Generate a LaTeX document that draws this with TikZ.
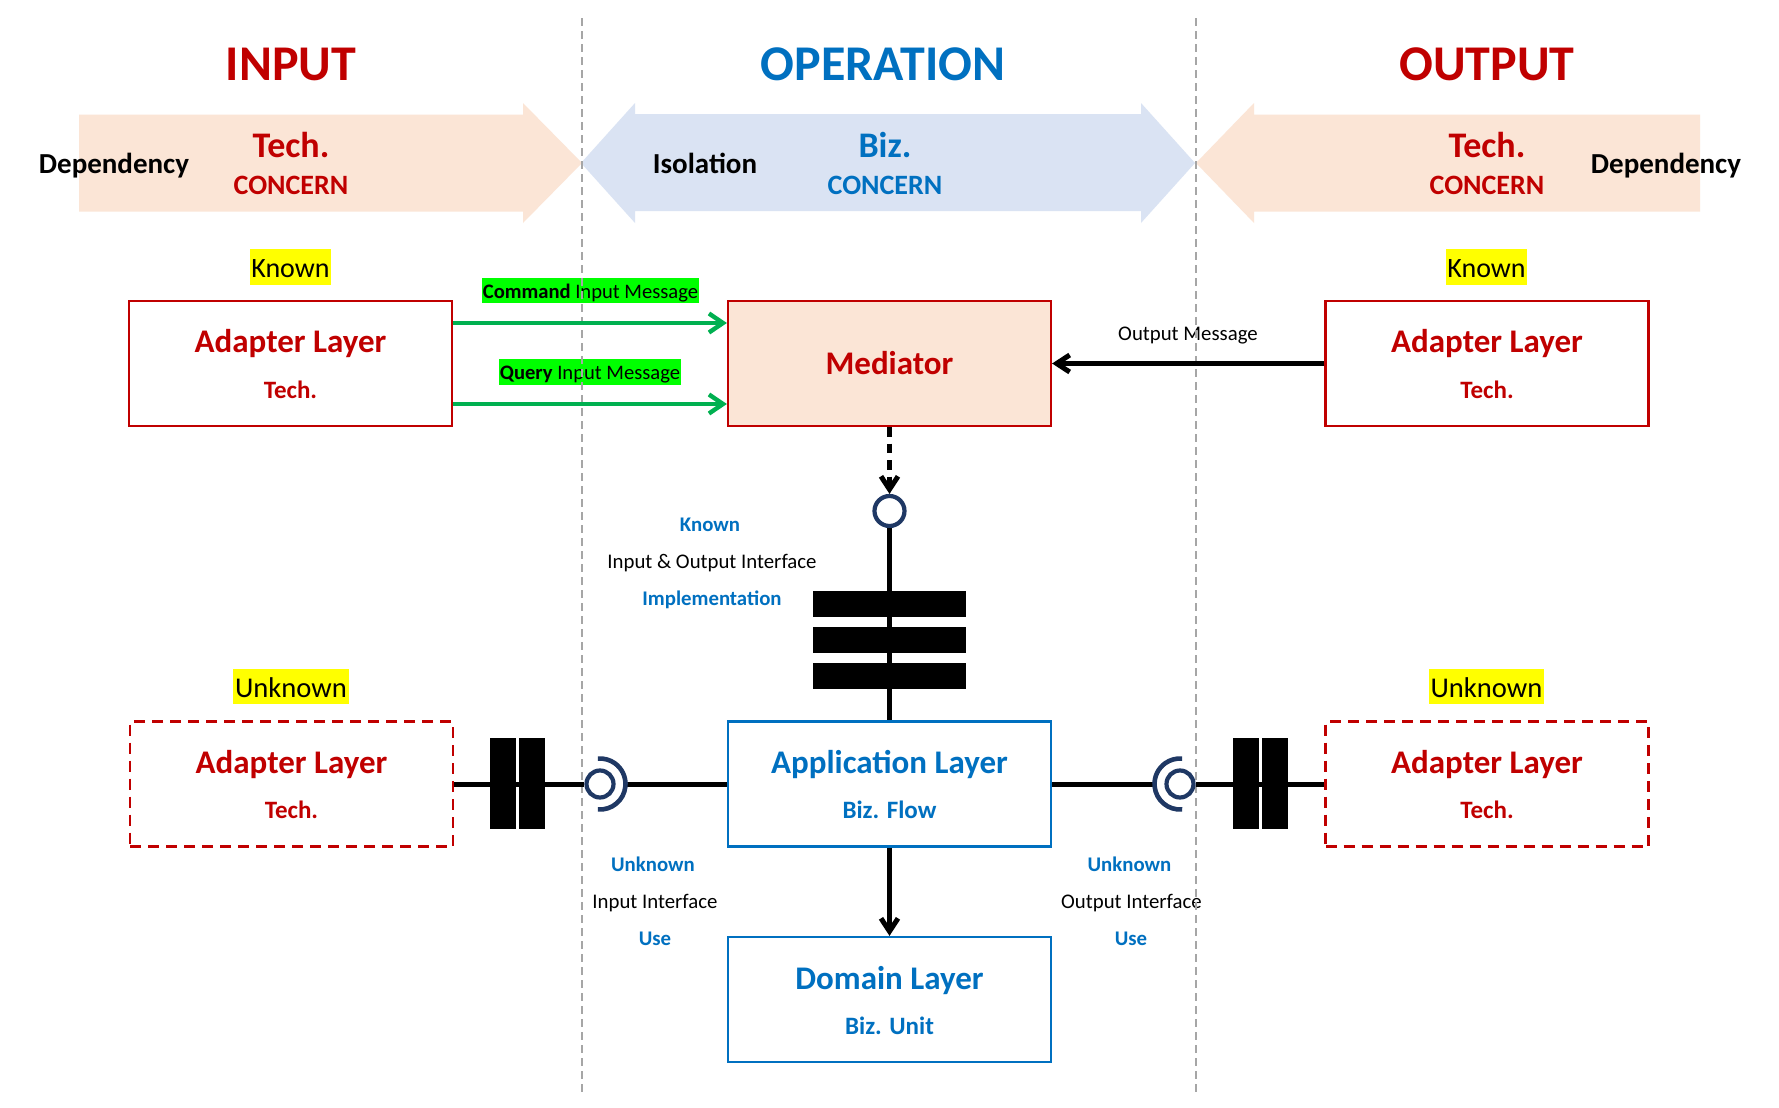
\documentclass[tikz,border=0pt]{standalone}
\usepackage{fontspec}
\setmainfont{Carlito}
\usetikzlibrary{arrows.meta}
\definecolor{cred}{HTML}{C00000}
\definecolor{cblue}{HTML}{0070C0}
\definecolor{peach}{HTML}{FBE5D6}
\definecolor{lblue}{HTML}{DAE3F3}
\definecolor{cgreen}{HTML}{00B050}
\definecolor{hgreen}{HTML}{00FF00}
\definecolor{hyellow}{HTML}{FFFF00}
\definecolor{navy}{HTML}{1F3864}
\definecolor{sepgray}{HTML}{A6A6A6}
\newcommand\myfs[1]{\fontsize{#1}{#1}\selectfont}
\begin{document}
\begin{tikzpicture}[x=0.5pt,y=-0.5pt,
  txt/.style={anchor=base,inner sep=0pt},
  title/.style={txt,font=\bfseries\myfs{25pt}},
  big/.style={txt,font=\bfseries\myfs{18pt}},
  conc/.style={txt,font=\bfseries\myfs{14pt}},
  dep/.style={txt,font=\bfseries\myfs{14.5pt},text=black},
  hlk/.style={anchor=base,fill=hyellow,inner xsep=0.6pt,inner ysep=0pt,text height=14pt,text depth=4pt,font=\myfs{14pt}},
  hlu/.style={anchor=base,fill=hyellow,inner xsep=0.8pt,inner ysep=0pt,text height=14.25pt,text depth=3.25pt,font=\myfs{14.3pt}},
  hlg/.style={anchor=base,fill=hgreen,inner xsep=0.5pt,inner ysep=0pt,font=\myfs{10.3pt}},
  small/.style={txt,font=\myfs{10.4pt}},
  smallb/.style={txt,font=\bfseries\myfs{10.4pt},text=cblue},
  hd/.style={txt,font=\bfseries\myfs{16.5pt}},
  sub/.style={txt,font=\bfseries\myfs{12.5pt}},
  boxbase/.style={rectangle,inner sep=0pt,minimum width=161.5pt,minimum height=62.5pt},
  rbox/.style={boxbase,draw=cred,line width=1.1pt},
  dbox/.style={boxbase,draw=cred,line width=1.2pt,dash pattern=on 5.5pt off 3.5pt},
  bbox/.style={boxbase,draw=cblue,line width=1.1pt},
  conn/.style={line width=2.5pt,black},
  garrow/.style={line width=2.2pt,cgreen,-{Straight Barb[length=7pt,width=9.5pt]}},
  barrow/.style={line width=2.5pt,black,-{Straight Barb[length=6.5pt,width=8.5pt]}},
  darrow/.style={barrow,dash pattern=on 4.75pt off 3.5pt},
  lolli/.style={circle,draw=navy,fill=white,line width=2.1pt,inner sep=0pt,minimum size=15pt},
  sock/.style={draw=navy,line width=2.3pt},
  sepline/.style={draw=sepgray,line width=0.9pt,dash pattern=on 4pt off 2.5pt},
  barfill/.style={fill=black}
]
\useasboundingbox (0,0) rectangle (1779,1108);
\fill[white] (0,0) rectangle (1779,1108);

% background concern arrows
\fill[peach] (79,114.5) -- (523,114.5) -- (523,103) -- (582,163) -- (523,223) -- (523,211.5) -- (79,211.5) -- cycle;
\fill[peach] (1700,114.5) -- (1254,114.5) -- (1254,103) -- (1196,163) -- (1254,223) -- (1254,211.5) -- (1700,211.5) -- cycle;
\fill[lblue] (581,163) -- (635,103) -- (635,114) -- (1141,114) -- (1141,103) -- (1195,163) -- (1141,223) -- (1141,211) -- (635,211) -- (635,223) -- cycle;

% titles
\node[title,text=cred] (tin) at (291,80) {INPUT};
\node[title,text=cblue] (top) at (883,80) {OPERATION};
\node[title,text=cred] (tout) at (1487,80) {OUTPUT};

\node[big,text=cred] (tl) at (291,157) {Tech.};
\node[conc,text=cred] (cl) at (291,194) {CONCERN};
\node[dep] (dl) at (114,173) {Dependency};
\node[big,text=cblue] (tm) at (885,157) {Biz.};
\node[conc,text=cblue] (cm) at (885,194) {CONCERN};
\node[dep] (iso) at (705,173) {Isolation};
\node[big,text=cred] (tr) at (1487,157) {Tech.};
\node[conc,text=cred] (cr) at (1487,194) {CONCERN};
\node[dep] (dr) at (1666,173) {Dependency};

% highlights
\node[hlk] (k1) at (290.5,277) {Known};
\node[hlk] (k2) at (1486.5,277) {Known};
\node[hlu] (u1) at (291,697.5) {Unknown};
\node[hlu] (u2) at (1486.5,697.5) {Unknown};
\node[hlg,text height=10pt,text depth=2.5pt] (cmd) at (590.5,298) {\textbf{Command} Input Message};
\node[hlg,text height=10.25pt,text depth=2.75pt] (qry) at (590,379.5) {\textbf{Query} Input Message};
\node[small] (om) at (1188,340) {Output Message};

% interface texts
\node[smallb] (kk) at (710,531) {Known};
\node[small] (ioi) at (712,568) {Input \& Output Interface};
\node[smallb] (impl) at (712,605) {Implementation};
\node[smallb] (uk1) at (653,871) {Unknown};
\node[small] (ii) at (655,908) {Input Interface};
\node[smallb] (use1) at (655,945) {Use};
\node[smallb] (uk2) at (1129.5,871) {Unknown};
\node[small] (oi) at (1131.5,908) {Output Interface};
\node[smallb] (use2) at (1131,945) {Use};

% separators
\draw[sepline] (582,18) -- (582,1094);
\draw[sepline] (1196,18) -- (1196,1094);

% boxes
\node[rbox] (al1) at (290.5,363.5) {};
\node[rbox,fill=peach] (med) at (889.5,363.5) {};
\node[rbox] (ar1) at (1487,363.5) {};
\node[dbox] (al2) at (291.5,784) {};
\node[bbox] (app) at (889.5,784) {};
\node[dbox] (ar2) at (1487,784) {};
\node[bbox] (dom) at (889.5,999.5) {};

\node[hd,text=cred] (al1a) at (290.5,352) {Adapter Layer};
\node[sub,text=cred] (al1b) at (290.5,398) {Tech.};
\node[hd,text=cred] (medt) at (889.5,374) {Mediator};
\node[hd,text=cred] (ar1a) at (1487,352) {Adapter Layer};
\node[sub,text=cred] (ar1b) at (1487,398) {Tech.};
\node[hd,text=cred] (al2a) at (291.5,773) {Adapter Layer};
\node[sub,text=cred] (al2b) at (291.5,818) {Tech.};
\node[hd,text=cblue] (appa) at (889.5,773) {Application Layer};
\node[sub,text=cblue] (appb) at (889.5,818) {Biz. Flow};
\node[hd,text=cred] (ar2a) at (1487,773) {Adapter Layer};
\node[sub,text=cred] (ar2b) at (1487,818) {Tech.};
\node[hd,text=cblue] (doma) at (889.5,989) {Domain Layer};
\node[sub,text=cblue] (domb) at (889.5,1034) {Biz. Unit};

% message connectors
\coordinate (g1) at (0,323);
\coordinate (g2) at (0,404);
\draw[garrow] (al1.east |- g1) -- (med.west |- g1);
\draw[garrow] (al1.east |- g2) -- (med.west |- g2);
\draw[barrow] (ar1.west) -- (med.east);

% mediator -> application (known interface)
\node[lolli] (lo) at (889.5,511) {};
\draw[darrow] (med.south) -- (lo.north);
\draw[conn] (lo.south) -- (app.north);
\fill[barfill] (813,591) rectangle (966,617);
\fill[barfill] (813,627) rectangle (966,653);
\fill[barfill] (813,663) rectangle (966,689);

% application -> domain
\draw[barrow] (app.south) -- (dom.north);

% left socket
\node[lolli,minimum size=13.5pt] (sL) at (600,784) {};
\coordinate (aL) at (625.5,784);
\draw[conn] (al2.east) -- (sL.west);
\draw[conn] (aL) -- (app.west);
\draw[sock] (sL.center) ++(95:25.5) arc[start angle=95,end angle=-95,radius=25.5];
\fill[barfill] (490,738) rectangle (515.5,829);
\fill[barfill] (519,738) rectangle (545,829);

% right socket
\node[lolli,minimum size=13.5pt] (sR) at (1180,784) {};
\coordinate (aR) at (1154.5,784);
\draw[conn] (app.east) -- (aR);
\draw[conn] (sR.east) -- (ar2.west);
\draw[sock] (sR.center) ++(85:25.5) arc[start angle=85,end angle=275,radius=25.5];
\fill[barfill] (1233,738) rectangle (1259,829);
\fill[barfill] (1262,738) rectangle (1288,829);
\end{tikzpicture}
\end{document}
